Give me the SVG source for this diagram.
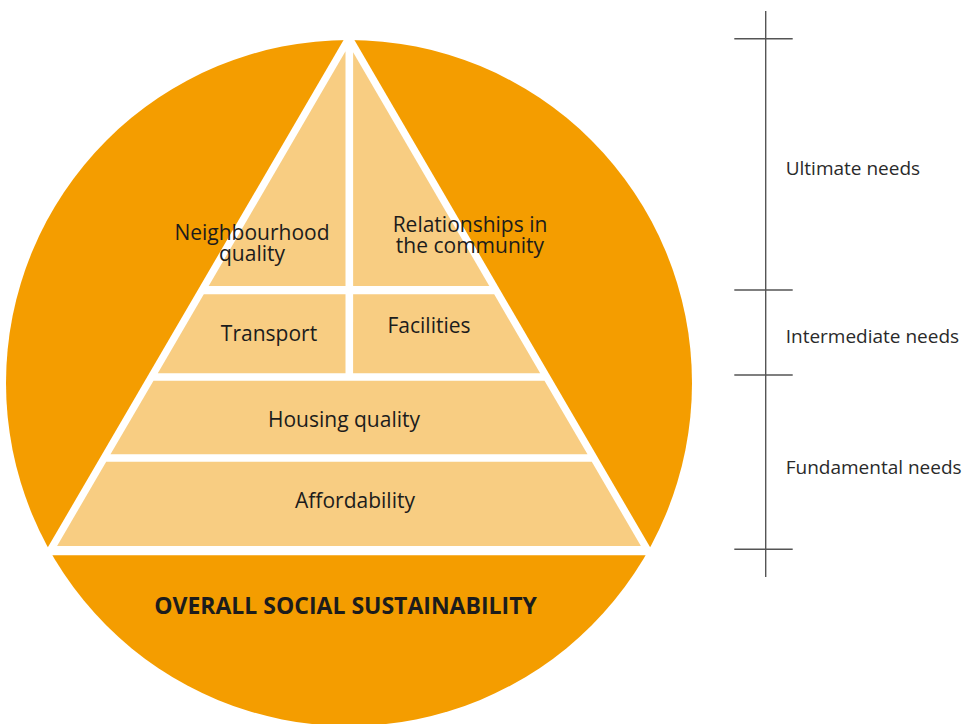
<svg xmlns="http://www.w3.org/2000/svg" width="968" height="724" viewBox="0 0 968 724">
  <style>
    .cell { fill: #F8CD82; }
    .lbl { font-family: "Open Sans", "Noto Sans", "Liberation Sans", sans-serif; font-size: 21px; fill: #1c1c1c; text-anchor: middle; }
    .side { font-family: "Open Sans", "Noto Sans", "Liberation Sans", sans-serif; font-size: 19px; fill: #2a2a2a; }
    .title { font-family: "Open Sans", "Noto Sans", "Liberation Sans", sans-serif; font-size: 23px; font-weight: bold; fill: #1c1c1c; text-anchor: middle; }
    .scale { stroke: #555; stroke-width: 1.4; fill: none; }
  </style>
  <rect width="968" height="724" fill="#ffffff"/>
  <g id="circle">
    <circle cx="349" cy="383" r="343" fill="#F49D00"/>
    <polygon points="349,30.7 43.2,555.3 654.8,555.3" fill="#ffffff"/>
  </g>
  <g id="neighbourhood-quality">
    <polygon class="cell" points="345.5,51.3 345.5,286 208.7,286"/>
    <text class="lbl" x="252" y="240">Neighbourhood<tspan x="252" dy="21">quality</tspan></text>
  </g>
  <g id="relationships">
    <polygon class="cell" points="353.1,52.3 489.3,286 353.1,286"/>
    <text class="lbl" x="470" y="232">Relationships in<tspan x="470" dy="21">the community</tspan></text>
  </g>
  <g id="transport">
    <polygon class="cell" points="203.8,294.3 345.5,294.3 345.5,373.3 157.8,373.3"/>
    <text class="lbl" x="269" y="341">Transport</text>
  </g>
  <g id="facilities">
    <polygon class="cell" points="353.1,294.3 494.2,294.3 540.2,373.3 353.1,373.3"/>
    <text class="lbl" x="429" y="333">Facilities</text>
  </g>
  <g id="housing-quality">
    <polygon class="cell" points="153.5,380.7 544.5,380.7 587.5,454.3 110.5,454.3"/>
    <text class="lbl" x="344" y="427">Housing quality</text>
  </g>
  <g id="affordability">
    <polygon class="cell" points="106.2,461.7 591.8,461.7 640.9,546 57.1,546"/>
    <text class="lbl" x="355" y="508">Affordability</text>
  </g>
  <g id="overall">
    <text class="title" x="345.5" y="614">OVERALL SOCIAL SUSTAINABILITY</text>
  </g>
  <g id="connectors">
    <g id="scale" class="scale">
      <line x1="765.7" y1="11" x2="765.7" y2="577"/>
      <line x1="734.3" y1="38.7" x2="792.7" y2="38.7"/>
      <line x1="734.3" y1="290" x2="792.7" y2="290"/>
      <line x1="734.3" y1="375" x2="792.7" y2="375"/>
      <line x1="734.3" y1="549.3" x2="792.7" y2="549.3"/>
    </g>
  </g>
  <g id="ultimate-needs"><text class="side" x="785.7" y="175">Ultimate needs</text></g>
  <g id="intermediate-needs"><text class="side" x="785.7" y="342.7">Intermediate needs</text></g>
  <g id="fundamental-needs"><text class="side" x="785.7" y="474">Fundamental needs</text></g>
</svg>
